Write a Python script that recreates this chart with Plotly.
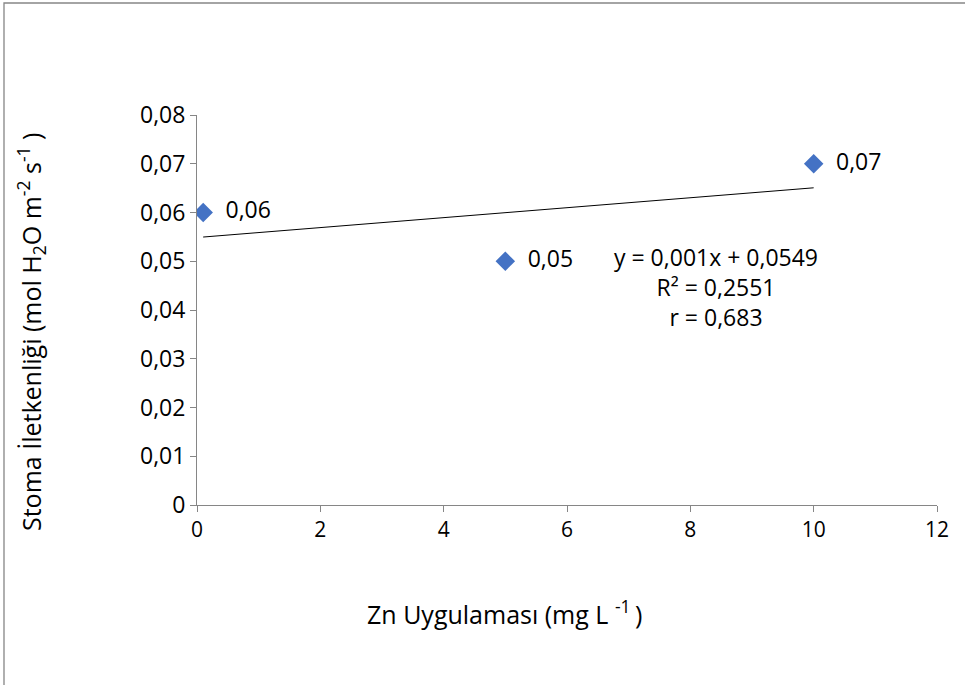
import numpy as np
import plotly.graph_objects as go

# Data
zn_dose = [0.1, 5, 10]
stoma = [0.06, 0.05, 0.07]
point_labels = ["0,06", "0,05", "0,07"]
x_ticks = [0, 2, 4, 6, 8, 10, 12]
y_ticks = [0, 0.01, 0.02, 0.03, 0.04, 0.05, 0.06, 0.07, 0.08]
y_tick_labels = ["0", "0,01", "0,02", "0,03", "0,04", "0,05", "0,06", "0,07", "0,08"]
equation_lines = ["y = 0,001x + 0,0549", "R² = 0,2551", "r = 0,683"]
x_title = "Zn Uygulaması (mg L <sup>-1 </sup>)"
y_title = "Stoma İletkenliği (mol H<sub>2</sub>O m<sup>-2</sup> s<sup>-1</sup> )"

FONT = "Open Sans"
GRAY = "#868686"

slope, intercept = np.polyfit(zn_dose, stoma, 1)
trend_x = np.array([min(zn_dose), max(zn_dose)])
trend_y = slope * trend_x + intercept

fig = go.Figure()
fig.add_trace(go.Scatter(
    x=trend_x, y=trend_y, mode="lines",
    line=dict(color="black", width=1), hoverinfo="skip", showlegend=False))
fig.add_trace(go.Scatter(
    x=zn_dose, y=stoma, mode="markers+text",
    marker=dict(symbol="diamond", size=15, color="#4472C4"),
    text=["  " + t for t in point_labels], textposition="middle right",
    textfont=dict(family=FONT, size=23, color="black"),
    showlegend=False))

W, H = 965, 685
L, R, T, B = 197, 28, 115, 180
pw, ph = W - L - R, H - T - B

def px_to_paper_x(px):
    return (px - L) / pw

def px_to_paper_y(py):
    return (H - B - py) / ph

fig.add_shape(type="rect", xref="paper", yref="paper",
              x0=px_to_paper_x(4), x1=px_to_paper_x(975),
              y0=px_to_paper_y(695), y1=px_to_paper_y(3),
              line=dict(color=GRAY, width=1.3), layer="below")

fig.add_annotation(xref="paper", yref="paper",
                   x=px_to_paper_x(716), y=px_to_paper_y(239),
                   xanchor="center", yanchor="top", showarrow=False,
                   align="center",
                   text="<br>".join(equation_lines),
                   font=dict(family=FONT, size=23, color="black"))

# axis titles (placed like the original chart)
fig.add_annotation(xref="paper", yref="paper",
                   x=px_to_paper_x(504), y=px_to_paper_y(612),
                   xanchor="center", yanchor="middle", showarrow=False,
                   text=x_title, font=dict(family=FONT, size=25, color="black"))
fig.add_annotation(xref="paper", yref="paper",
                   x=px_to_paper_x(31), y=px_to_paper_y(332),
                   xanchor="center", yanchor="middle", showarrow=False,
                   textangle=-90,
                   text=y_title, font=dict(family=FONT, size=25, color="black"))

fig.update_layout(
    width=W, height=H,
    margin=dict(l=L, r=R, t=T, b=B, autoexpand=False),
    paper_bgcolor="white", plot_bgcolor="white",
    font=dict(family=FONT, size=20, color="black"),
    xaxis=dict(range=[0, 12], tickvals=x_ticks, ticks="outside", ticklen=6,
               tickcolor=GRAY, showline=True, linecolor=GRAY, linewidth=1,
               showgrid=False, zeroline=False, automargin=False,
               tickfont=dict(family=FONT, size=21, color="black")),
    yaxis=dict(range=[0, 0.08], tickvals=y_ticks, ticktext=y_tick_labels,
               ticks="outside", ticklen=6, tickcolor=GRAY, showline=True,
               linecolor=GRAY, linewidth=1, showgrid=False, zeroline=False,
               automargin=False,
               tickfont=dict(family=FONT, size=23, color="black")),
)

fig.write_html("out.html", config={"displayModeBar": False},
               post_script="document.body.style.margin='0';")
